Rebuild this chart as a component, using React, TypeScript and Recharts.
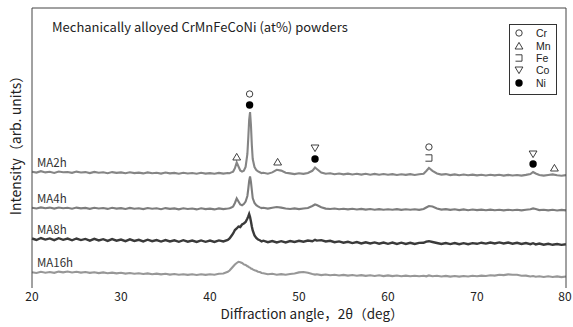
import React from "react";
import { ComposedChart, Line, Scatter, XAxis, YAxis, Legend } from "recharts";

if (typeof document !== "undefined") {
  document.body.style.margin = "0";
}

// diffraction angle 2θ (deg)
const angles = [
  20, 20.5, 21, 21.5, 22, 22.5, 23, 23.5, 24, 24.5,
  25, 25.5, 26, 26.5, 27, 27.5, 28, 28.5, 29, 29.5,
  30, 30.5, 31, 31.5, 32, 32.5, 33, 33.5, 34, 34.5,
  35, 35.5, 36, 36.5, 37, 37.5, 38, 38.5, 39, 39.5,
  40, 40.5, 41, 41.5, 42,
  42.2, 42.4, 42.6, 42.8, 43, 43.2, 43.4, 43.6, 43.8, 44,
  44.2, 44.3, 44.4, 44.5, 44.6, 44.7, 44.8, 45, 45.2, 45.4,
  45.6, 45.8, 46,
  46.5, 47, 47.5, 48, 48.5, 49, 49.5, 50, 50.5, 51,
  51.5, 51.8, 52, 52.5, 53, 53.5, 54, 54.5, 55, 55.5,
  56, 56.5, 57, 57.5, 58, 58.5, 59, 59.5, 60, 60.5,
  61, 61.5, 62, 62.5, 63, 63.5,
  64, 64.3, 64.6, 65, 65.5, 66, 66.5, 67, 67.5, 68,
  68.5, 69, 69.5, 70, 70.5, 71, 71.5, 72, 72.5, 73,
  73.5, 74, 74.5, 75, 75.5, 76, 76.3, 76.6, 77, 77.5,
  78, 78.5, 79, 79.5, 80,
];

// intensity (arb. units), curves stacked as displayed
const ma2h = [
  116.2, 115.4, 116.8, 115.6, 116.3, 115.1, 116.5, 115.8, 116.0, 115.2,
  116.4, 115.5, 115.9, 114.9, 116.1, 115.3, 115.8, 114.8, 115.9, 115.1,
  115.6, 114.7, 115.7, 114.9, 115.4, 114.6, 115.6, 114.8, 115.2, 114.4,
  115.5, 114.6, 115.1, 114.3, 115.3, 114.5, 115.0, 114.2, 115.2, 114.4,
  114.9, 114.2, 115.1, 114.4, 115.0,
  114.8, 115.6, 116.4, 119.8, 125.5, 121.5, 117.5, 116.4, 117.2, 121.0,
  134, 150, 168, 176, 163, 143, 129, 121, 118.0, 116.6,
  115.8, 114.9, 115.2,
  114.3, 115.6, 118.2, 117.4, 115.3, 114.6, 113.9, 114.8, 114.1, 115.0,
  117.2, 120.5, 119.0, 115.4, 114.2, 114.8, 113.7, 114.5, 113.6, 114.4,
  113.5, 114.3, 113.4, 114.2, 113.3, 114.1, 113.2, 114.0, 113.3, 113.9,
  113.0, 113.8, 113.1, 113.9, 113.0, 113.7,
  114.2, 117.0, 120.0, 117.2, 114.6, 113.4, 113.9, 112.9, 113.6, 112.8,
  113.5, 112.7, 113.4, 112.6, 113.3, 112.5, 113.2, 112.6, 113.3, 112.4,
  113.1, 112.5, 113.0, 112.4, 113.1, 114.0, 116.0, 114.5, 113.0, 112.4,
  113.0, 113.6, 112.8, 112.3, 112.9,
];

const ma4h = [
  80.3, 79.5, 80.6, 79.8, 80.4, 79.4, 80.5, 79.7, 80.2, 79.3,
  80.4, 79.6, 80.1, 79.2, 80.3, 79.5, 80.0, 79.1, 80.2, 79.4,
  79.9, 79.0, 80.1, 79.3, 79.8, 78.9, 80.0, 79.2, 79.7, 78.8,
  79.9, 79.1, 79.6, 78.7, 79.8, 79.0, 79.5, 78.6, 79.7, 78.9,
  79.4, 78.6, 79.6, 78.9, 79.5,
  79.8, 80.4, 81.5, 85.0, 89.5, 86.5, 83.5, 82.8, 84.0, 86.5,
  92, 99, 107, 111.5, 106, 98, 90, 85.0, 82.8, 81.6,
  80.6, 79.9, 80.2,
  79.4, 80.2, 81.0, 80.4, 79.5, 79.0, 79.6, 78.9, 79.5, 80.0,
  82.0, 83.5, 83.0, 80.8, 79.4, 79.0, 79.5, 78.7, 79.3, 78.6,
  79.2, 78.5, 79.1, 78.4, 79.0, 78.3, 78.9, 78.3, 78.8, 78.2,
  78.9, 78.1, 78.7, 78.2, 78.8, 78.1,
  79.0, 80.5, 82.0, 81.5, 79.6, 78.4, 78.9, 78.1, 78.7, 77.9,
  78.6, 77.8, 78.5, 77.9, 78.4, 77.7, 78.4, 77.8, 78.3, 77.6,
  78.3, 77.7, 78.2, 77.6, 78.3, 78.8, 79.6, 78.9, 77.9, 78.3,
  77.6, 78.2, 77.5, 78.1, 77.6,
];

const ma8h = [
  49.5, 48.0, 50.0, 48.4, 49.6, 47.9, 49.8, 48.2, 49.4, 47.7,
  49.5, 47.9, 49.1, 47.4, 49.2, 47.6, 48.8, 47.1, 48.9, 47.3,
  48.5, 46.9, 48.6, 47.0, 48.2, 46.6, 48.3, 46.8, 47.9, 46.4,
  48.0, 46.5, 47.7, 46.2, 47.8, 46.3, 47.5, 46.0, 47.6, 46.2,
  47.4, 46.1, 47.6, 46.6, 48.0,
  49.5, 52.0, 54.5, 58.0, 59.5, 61.5, 61.0, 63.5, 64.5, 66.0,
  69.5, 71.5, 74.0, 71.0, 66.5, 61.5, 57.5, 52.5, 50.0, 48.5,
  47.8, 46.6, 47.3,
  45.8, 47.0, 45.6, 46.8, 45.5, 46.9, 46.0, 47.2, 46.3, 47.5,
  46.8, 48.2, 47.4, 47.9, 46.5, 47.2, 45.8, 46.6, 45.3, 46.2,
  44.9, 45.9, 44.6, 45.7, 44.5, 45.6, 44.3, 45.5, 44.2, 45.4,
  44.1, 45.3, 44.0, 45.2, 44.0, 45.1,
  45.2, 46.4, 46.8, 46.0, 45.0, 44.0, 45.0, 43.9, 44.9, 43.8,
  44.8, 43.8, 44.9, 44.2, 45.3, 44.4, 45.5, 44.6, 45.6, 44.5,
  45.4, 44.3, 45.2, 44.0, 44.9, 43.8, 44.8, 43.6, 44.4, 43.3,
  44.2, 43.2, 44.0, 43.1, 43.8,
];

const ma16h = [
  15.8, 15.0, 16.2, 15.3, 16.0, 15.2, 16.4, 15.6, 16.5, 15.5,
  16.3, 15.4, 16.0, 15.1, 15.8, 14.9, 15.6, 14.8, 15.4, 14.6,
  15.2, 14.4, 15.0, 14.2, 14.8, 14.0, 14.6, 13.8, 14.4, 13.6,
  14.2, 13.4, 14.0, 13.2, 13.8, 13.1, 13.7, 13.0, 13.8, 13.1,
  13.8, 13.3, 14.2, 14.5, 16.2,
  17.5, 19.5, 21.5, 23.5, 25.0, 26.2, 25.8, 25.0, 23.6, 23.0,
  21.8, 21.5, 20.6, 20.4, 19.5, 19.2, 18.6, 17.8, 17.2, 16.3,
  15.9, 15.0, 14.8,
  13.8, 14.2, 13.3, 13.9, 13.2, 14.0, 14.5, 15.6, 16.0, 15.2,
  14.0, 13.4, 13.8, 12.9, 13.5, 12.7, 13.3, 12.5, 13.1, 12.4,
  13.0, 12.2, 12.9, 12.1, 12.8, 12.0, 12.7, 11.9, 12.6, 11.9,
  12.5, 11.8, 12.4, 11.8, 12.3, 11.7,
  12.3, 11.7, 12.6, 11.8, 12.3, 11.5, 12.1, 11.4, 12.0, 11.4,
  12.0, 11.5, 12.2, 11.7, 12.4, 12.0, 12.8, 12.4, 13.2, 12.9,
  13.6, 13.3, 13.2, 12.3, 12.4, 11.5, 12.0, 11.3, 11.8, 11.0,
  11.7, 11.0, 11.6, 10.9, 11.5,
];

// phase markers: [angle, intensity]
const crMarks = [[44.45, 194], [64.6, 141]];
const mnMarks = [[43.0, 131], [47.6, 126], [78.7, 120]];
const feMarks = [[64.6, 130]];
const coMarks = [[51.8, 140], [76.3, 134]];
const niMarks = [[44.45, 183], [51.8, 129], [76.3, 124]];

const seriesNames = ["MA2h", "MA4h", "MA8h", "MA16h"];
const seriesKeys = ["ma2h", "ma4h", "ma8h", "ma16h"];
const seriesColors = ["#858585", "#7d7d7d", "#3a3a3a", "#979797"];
const seriesWidths = [2.1, 2.1, 2.4, 2.1];
const legendNames = ["Cr", "Mn", "Fe", "Co", "Ni"];
const xTicks = [20, 30, 40, 50, 60, 70, 80];

const titleText = "Mechanically alloyed CrMnFeCoNi (at%) powders";
const xLabelText = "Diffraction angle，2θ（deg）";
const yLabelText = "Intensity（arb. units）";

const data = angles.map((a, i) => ({
  a,
  ma2h: ma2h[i],
  ma4h: ma4h[i],
  ma8h: ma8h[i],
  ma16h: ma16h[i],
}));
const toPts = (arr: number[][]) => arr.map(([a, v]) => ({ a, v }));

const FONT = "'Noto Sans CJK JP', 'Noto Sans', sans-serif";
const MK = "#2a2a2a";

function drawSymbol(kind: string, cx: number, cy: number) {
  switch (kind) {
    case "Cr":
      return <circle cx={cx} cy={cy} r={3.2} fill="#fff" stroke={MK} strokeWidth={0.9} />;
    case "Mn":
      return (
        <polygon
          points={`${cx},${cy - 3.6} ${cx - 3.9},${cy + 3} ${cx + 3.9},${cy + 3}`}
          fill="#fff"
          stroke={MK}
          strokeWidth={0.9}
        />
      );
    case "Fe":
      return (
        <path
          d={`M${cx - 3.5},${cy - 3.2} H${cx + 3} V${cy + 3.2} H${cx - 3.5}`}
          fill="none"
          stroke={MK}
          strokeWidth={0.9}
        />
      );
    case "Co":
      return (
        <polygon
          points={`${cx},${cy + 3.6} ${cx - 3.9},${cy - 3} ${cx + 3.9},${cy - 3}`}
          fill="#fff"
          stroke={MK}
          strokeWidth={0.9}
        />
      );
    default:
      return <circle cx={cx} cy={cy} r={3.7} fill="#000" />;
  }
}

const shapeFor = (kind: string) => (p: any) =>
  p && p.cx != null ? <g>{drawSymbol(kind, p.cx, p.cy)}</g> : <g />;

function LegendBox() {
  return (
    <div
      style={{
        width: 48,
        height: 71,
        border: "1px solid #333",
        boxSizing: "border-box",
        background: "#fff",
        paddingTop: 2,
        fontFamily: "'Liberation Sans', Arial, sans-serif",
        fontSize: 10.5,
        color: "#222",
      }}
    >
      {legendNames.map((n) => (
        <div key={n} style={{ display: "flex", alignItems: "center", height: 12.4 }}>
          <svg width={26} height={12} style={{ display: "block" }}>
            {drawSymbol(n, 9, 6)}
          </svg>
          <span style={{ lineHeight: "12px" }}>{n}</span>
        </div>
      ))}
    </div>
  );
}

const XTick = (props: any) => {
  const { x, y, payload } = props;
  return (
    <text x={x} y={y + 13} textAnchor="middle" fontSize={12} fill="#222" fontFamily={FONT}>
      {payload.value}
    </text>
  );
};

const makeLineLabel = (name: string) => (props: any) => {
  if (props.index !== 0) return <g />;
  return (
    <text x={props.x + 5} y={props.y - 5} fontSize={11.5} fill="#333" fontFamily={FONT}>
      {name}
    </text>
  );
};

const XLabel = (props: any) => {
  const vb = props.viewBox;
  return (
    <text
      x={vb.x + vb.width / 2 + 13}
      y={vb.y + 31}
      textAnchor="middle"
      fontSize={13.5}
      fill="#222"
      fontFamily={FONT}
    >
      {xLabelText}
    </text>
  );
};

const YLabel = (props: any) => {
  const vb = props.viewBox;
  const cx = 15;
  const cy = vb.y + vb.height / 2 - 6;
  return (
    <text
      x={cx}
      y={cy}
      transform={`rotate(-90, ${cx}, ${cy})`}
      textAnchor="middle"
      dominantBaseline="central"
      fontSize={14}
      fill="#222"
      fontFamily={FONT}
    >
      {yLabelText}
    </text>
  );
};

const TitleLabel = (props: any) => {
  const vb = props.viewBox;
  return (
    <text x={52} y={vb.y + vb.height + 24} fontSize={13} fill="#222" fontFamily={FONT}>
      {titleText}
    </text>
  );
};

export default function App() {
  return (
    <div style={{ width: 573, height: 327, background: "#fff", position: "relative" }}>
      <ComposedChart
        width={573}
        height={327}
        data={data}
        margin={{ top: 7, right: 6, left: 31, bottom: 9 }}
      >
        <XAxis
          dataKey="a"
          type="number"
          domain={[20, 80]}
          ticks={xTicks}
          axisLine={false}
          tickLine={false}
          tickSize={0}
          tickMargin={0}
          height={30}
          tick={<XTick />}
          label={{ content: <XLabel /> }}
        />
        <XAxis
          xAxisId="top"
          orientation="top"
          dataKey="a"
          type="number"
          domain={[20, 80]}
          height={1}
          tick={false}
          tickLine={false}
          axisLine={{ stroke: "#444", strokeWidth: 1 }}
          label={{ content: <TitleLabel /> }}
        />
        <YAxis
          type="number"
          domain={[0, 280]}
          width={1}
          tick={false}
          tickLine={false}
          axisLine={{ stroke: "#444", strokeWidth: 1 }}
          label={{ content: <YLabel /> }}
        />
        <YAxis
          yAxisId="right"
          orientation="right"
          type="number"
          domain={[0, 280]}
          width={1}
          tick={false}
          tickLine={false}
          axisLine={{ stroke: "#444", strokeWidth: 1 }}
        />
        {seriesKeys.map((k, i) => (
          <Line
            key={k}
            dataKey={k}
            type="linear"
            stroke={seriesColors[i]}
            strokeWidth={seriesWidths[i]}
            dot={false}
            activeDot={false}
            isAnimationActive={false}
            label={makeLineLabel(seriesNames[i])}
          />
        ))}
        <Scatter data={toPts(crMarks)} dataKey="v" shape={shapeFor("Cr")} isAnimationActive={false} legendType="none" />
        <Scatter data={toPts(mnMarks)} dataKey="v" shape={shapeFor("Mn")} isAnimationActive={false} legendType="none" />
        <Scatter data={toPts(feMarks)} dataKey="v" shape={shapeFor("Fe")} isAnimationActive={false} legendType="none" />
        <Scatter data={toPts(coMarks)} dataKey="v" shape={shapeFor("Co")} isAnimationActive={false} legendType="none" />
        <Scatter data={toPts(niMarks)} dataKey="v" shape={shapeFor("Ni")} isAnimationActive={false} legendType="none" />
        <Legend
          layout="horizontal"
          verticalAlign="middle"
          align="center"
          wrapperStyle={{ left: 509, top: 24, width: 48, height: 71 }}
          content={<LegendBox />}
        />
      </ComposedChart>
    </div>
  );
}
